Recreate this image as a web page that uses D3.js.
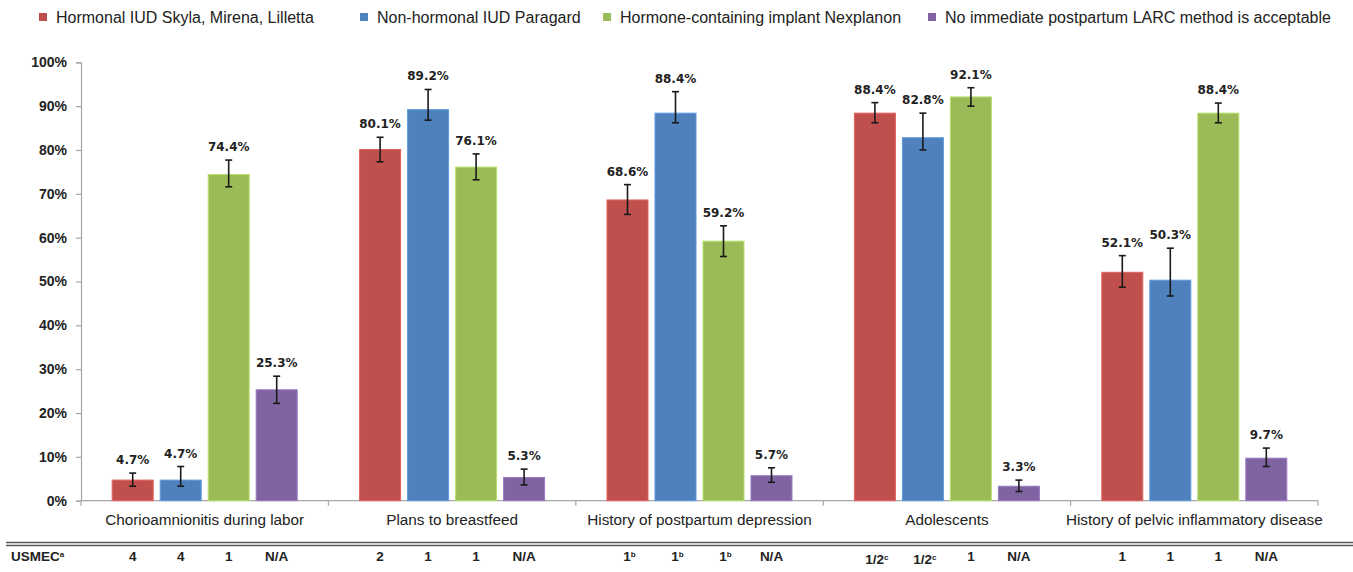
<!DOCTYPE html>
<html>
<head>
<meta charset="utf-8">
<script src="https://cdn.jsdelivr.net/npm/d3@7/dist/d3.min.js"></script>
<style>
  html, body { margin: 0; padding: 0; background: #fff; }
  svg { display: block; }
</style>
</head>
<body>
<svg id="chart" width="1353" height="572"></svg>
<script>
// ---------- DATA ----------
const categories = ["Chorioamnionitis during labor", "Plans to breastfeed", "History of postpartum depression", "Adolescents", "History of pelvic inflammatory disease"];
const seriesNames = ["Hormonal IUD Skyla, Mirena, Lilletta", "Non-hormonal IUD Paragard", "Hormone-containing implant Nexplanon", "No immediate postpartum LARC method is acceptable"];
const seriesColors = ["#C0504D", "#4F81BD", "#9BBB59", "#8064A2"];

const hormonalIUD      = [4.7, 80.1, 68.6, 88.4, 52.1];
const nonHormonalIUD   = [4.7, 89.2, 88.4, 82.8, 50.3];
const implant          = [74.4, 76.1, 59.2, 92.1, 88.4];
const noneAcceptable   = [25.3, 5.3, 5.7, 3.3, 9.7];

const hormonalIUDLow    = [3.3, 77.3, 65.3, 86.2, 48.7];
const hormonalIUDHigh   = [6.3, 82.9, 72.1, 90.8, 55.9];
const nonHormonalIUDLow = [3.3, 86.8, 86.2, 80.0, 46.7];
const nonHormonalIUDHigh= [7.8, 93.8, 93.3, 88.4, 57.6];
const implantLow        = [71.6, 73.2, 55.7, 90.0, 86.2];
const implantHigh       = [77.7, 79.1, 62.7, 94.2, 90.7];
const noneLow           = [22.2, 3.6, 4.2, 2.1, 7.8];
const noneHigh          = [28.4, 7.2, 7.5, 4.7, 12.0];

const yTicks = [0, 10, 20, 30, 40, 50, 60, 70, 80, 90, 100];

const usmecLabel = "USMEC";
const usmecLabelSup = "a";
const usmecMain = [["4","4","1","N/A"], ["2","1","1","N/A"], ["1","1","1","N/A"], ["1/2","1/2","1","N/A"], ["1","1","1","N/A"]];
const usmecSup  = [["","","",""], ["","","",""], ["b","b","b",""], ["c","c","",""], ["","","",""]];

// ---------- BUILD ----------
const values = [hormonalIUD, nonHormonalIUD, implant, noneAcceptable];
const lows = [hormonalIUDLow, nonHormonalIUDLow, implantLow, noneLow];
const highs = [hormonalIUDHigh, nonHormonalIUDHigh, implantHigh, noneHigh];

const rows = [];
categories.forEach((c, ci) => {
  seriesNames.forEach((s, si) => {
    rows.push({cat: c, ci, series: s, si, v: values[si][ci], lo: lows[si][ci], hi: highs[si][ci],
               um: usmecMain[ci][si], us: usmecSup[ci][si]});
  });
});

const svg = d3.select("#chart");
const plotLeft = 81, plotRight = 1318, plotTop = 62.3, plotBottom = 500.7;

const y = d3.scaleLinear().domain([0, 100]).range([plotBottom, plotTop]);
const x0 = d3.scaleBand().domain(categories).range([plotLeft, plotRight]).paddingInner(0).paddingOuter(0);
const groupW = 185;
const bw0 = x0.bandwidth();
const x1 = d3.scaleBand().domain(seriesNames).range([(bw0 - groupW) / 2, (bw0 + groupW) / 2]).paddingInner(0.146).paddingOuter(0);
const color = d3.scaleOrdinal().domain(seriesNames).range(seriesColors);

const axisColor = "#A6A6A6";

// Y axis
const yAxis = d3.axisLeft(y).tickValues(yTicks).tickSize(5).tickPadding(9).tickFormat(d => d + "%");
const gy = svg.append("g").attr("transform", `translate(${plotLeft},0)`).call(yAxis);
gy.select(".domain").attr("stroke", axisColor).attr("stroke-width", 1.2);
gy.selectAll(".tick line").attr("stroke", axisColor).attr("stroke-width", 1.2);
gy.selectAll(".tick text").attr("font-family", "'Liberation Sans', Arial, sans-serif")
  .attr("font-size", 14).attr("font-weight", "bold").attr("fill", "#222");

// X axis (boundary ticks)
const boundaries = categories.map(c => x0(c)).concat([plotRight]);
const gx = svg.append("g");
gx.append("line").attr("x1", plotLeft).attr("x2", plotRight).attr("y1", plotBottom).attr("y2", plotBottom)
  .attr("stroke", axisColor).attr("stroke-width", 1.2);
gx.selectAll("line.bt").data(boundaries).join("line").attr("class", "bt")
  .attr("x1", d => d).attr("x2", d => d).attr("y1", plotBottom).attr("y2", plotBottom + 5)
  .attr("stroke", axisColor).attr("stroke-width", 1.2);
gx.selectAll("text.cat").data(categories).join("text").attr("class", "cat")
  .attr("x", d => x0(d) + bw0 / 2).attr("y", 525)
  .attr("text-anchor", "middle")
  .attr("font-family", "'Liberation Sans', Arial, sans-serif").attr("font-size", 15.3).attr("fill", "#222")
  .text(d => d);

// Bars
svg.append("g").selectAll("rect").data(rows).join("rect")
  .attr("x", d => x0(d.cat) + x1(d.series))
  .attr("width", x1.bandwidth())
  .attr("y", d => y(d.v))
  .attr("height", d => y(0) - y(d.v))
  .attr("fill", d => color(d.series))
  .attr("stroke", d => d3.color(color(d.series)).brighter(0.5))
  .attr("stroke-width", 1);

// Error bars
const eb = svg.append("g").attr("stroke", "#1a1a1a").attr("stroke-width", 1.6);
rows.forEach(d => {
  const cx = x0(d.cat) + x1(d.series) + x1.bandwidth() / 2;
  eb.append("line").attr("x1", cx).attr("x2", cx).attr("y1", y(d.lo)).attr("y2", y(d.hi));
  eb.append("line").attr("x1", cx - 3.5).attr("x2", cx + 3.5).attr("y1", y(d.lo)).attr("y2", y(d.lo));
  eb.append("line").attr("x1", cx - 3.5).attr("x2", cx + 3.5).attr("y1", y(d.hi)).attr("y2", y(d.hi));
});

// Value labels
svg.append("g").selectAll("text").data(rows).join("text")
  .attr("x", d => x0(d.cat) + x1(d.series) + x1.bandwidth() / 2)
  .attr("y", d => y(d.hi) - 9)
  .attr("text-anchor", "middle")
  .attr("font-family", "'DejaVu Sans', sans-serif").attr("font-size", 12).attr("font-weight", "bold")
  .attr("fill", "#222")
  .text(d => d.v.toFixed(1) + "%");

// Legend
const legendX = [39, 360, 603, 928];
const lg = svg.append("g").selectAll("g").data(seriesNames).join("g")
  .attr("transform", (d, i) => `translate(${legendX[i]},0)`);
lg.append("rect").attr("x", 0).attr("y", 13).attr("width", 8).attr("height", 8).attr("fill", d => color(d));
lg.append("text").attr("x", 17).attr("y", 22.5)
  .attr("font-family", "'Liberation Sans', Arial, sans-serif").attr("font-size", 16).attr("fill", "#222")
  .text(d => d);

// Double rule
svg.append("line").attr("x1", 6).attr("x2", 1353).attr("y1", 542.5).attr("y2", 542.5).attr("stroke", "#555").attr("stroke-width", 1.3);
svg.append("line").attr("x1", 6).attr("x2", 1353).attr("y1", 545.5).attr("y2", 545.5).attr("stroke", "#555").attr("stroke-width", 1.3);

// USMEC row
const fontB = "'Liberation Sans', Arial, sans-serif";
const ut = svg.append("text").attr("x", 11).attr("y", 561)
  .attr("font-family", fontB).attr("font-size", 13.5).attr("font-weight", "bold").attr("fill", "#222");
ut.append("tspan").text(usmecLabel);
ut.append("tspan").attr("font-size", 8).attr("dy", -4).text(usmecLabelSup);

const uv = svg.append("g").selectAll("text").data(rows).join("text")
  .attr("x", d => x0(d.cat) + x1(d.series) + x1.bandwidth() / 2 + (d.us ? 2 : 0))
  .attr("y", d => d.um === "1/2" ? 564 : 561)
  .attr("text-anchor", "middle")
  .attr("font-family", fontB).attr("font-size", 13.5).attr("font-weight", "bold").attr("fill", "#222");
uv.append("tspan").text(d => d.um);
uv.append("tspan").attr("font-size", 8).attr("dy", -4).text(d => d.us);
</script>
</body>
</html>
